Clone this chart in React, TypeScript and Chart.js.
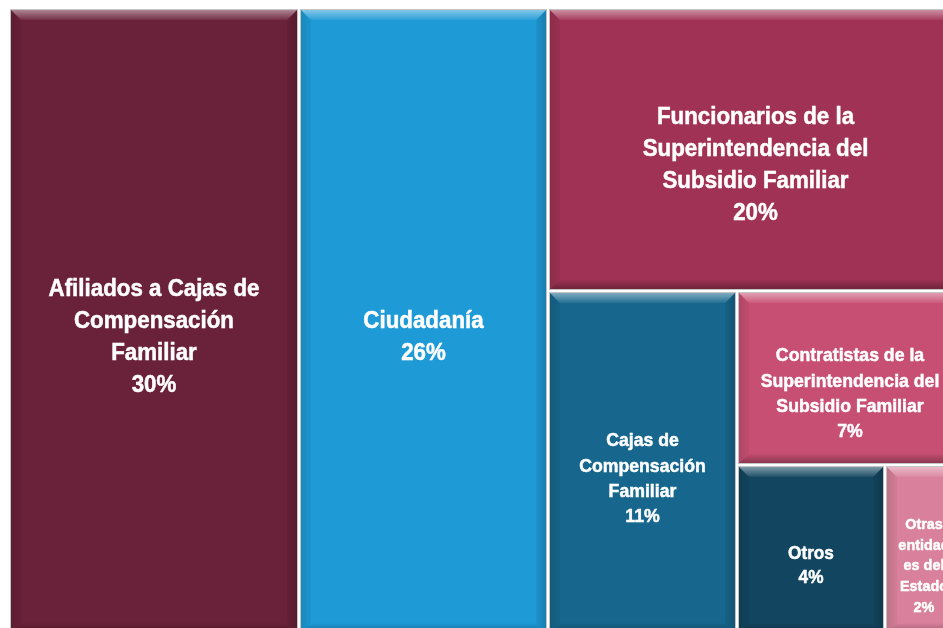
import React, { useEffect, useRef } from "react";
import { Chart, registerables } from "chart.js";

Chart.register(...registerables);

// ---- data ----
const categories: string[][] = [
  ["Afiliados a Cajas de", "Compensación", "Familiar"],
  ["Ciudadanía"],
  ["Funcionarios de la", "Superintendencia del", "Subsidio Familiar"],
  ["Cajas de", "Compensación", "Familiar"],
  ["Contratistas de la", "Superintendencia del", "Subsidio Familiar"],
  ["Otros"],
  ["Otras", "entidad", "es del", "Estado"],
];
const values: number[] = [30.4, 26.1, 19.6, 10.9, 6.6, 4.2, 2.2];

// ---- styles ----
const colors: string[] = ["#6A213A", "#1E9AD6", "#A03355", "#17668D", "#C84F74", "#12455F", "#D9819C"];
const fontSizes: number[] = [24, 24, 24, 19, 19, 18.5, 15.5];
const FONT_FAMILY = "'Liberation Sans', Arial, sans-serif";
const NARROW = 0.93;

type R = { x: number; y: number; w: number; h: number };

function computeLayout(vals: number[], aspect: number): R[] {
  const out: R[] = [];
  let x = 0, y = 0, w = 1, h = 1;
  let remaining = vals.reduce((a, b) => a + b, 0);
  for (let i = 0; i < vals.length; i++) {
    if (i === vals.length - 1) {
      out.push({ x, y, w, h });
      break;
    }
    const frac = vals[i] / remaining;
    if (w * aspect >= h) {
      const cw = w * frac;
      out.push({ x, y, w: cw, h });
      x += cw; w -= cw;
    } else {
      const ch = h * frac;
      out.push({ x, y, w, h: ch });
      y += ch; h -= ch;
    }
    remaining -= vals[i];
  }
  return out;
}

function hexToRgb(hex: string): [number, number, number] {
  const n = parseInt(hex.slice(1), 16);
  return [(n >> 16) & 255, (n >> 8) & 255, n & 255];
}
function mix(hex: string, target: number, amt: number): string {
  const [r, g, b] = hexToRgb(hex);
  const m = (c: number) => Math.round(c + (target - c) * amt);
  return `rgb(${m(r)},${m(g)},${m(b)})`;
}

const treemapPlugin = {
  id: "treemapCells",
  beforeDatasetsDraw(chart: any) {
    const ctx: CanvasRenderingContext2D = chart.ctx;
    const xs = chart.scales.x;
    const ys = chart.scales.y;
    const area = chart.chartArea;
    const aspect = (area.right - area.left) / (area.bottom - area.top);
    const rects = computeLayout(values, aspect);
    const total = values.reduce((a, b) => a + b, 0);
    const g = 2;
    const bv = 10;
    ctx.save();
    rects.forEach((r, i) => {
      const x0 = xs.getPixelForValue(r.x);
      const x1 = xs.getPixelForValue(r.x + r.w);
      const y0 = ys.getPixelForValue(r.y);
      const y1 = ys.getPixelForValue(r.y + r.h);
      const L = Math.round(x0 + g), T = Math.round(y0 + g);
      const Rr = Math.round(x1 - g), B = Math.round(y1 - g);
      const base = colors[i];

      // outline
      ctx.strokeStyle = "#c4c4c4";
      ctx.lineWidth = 1;
      ctx.strokeRect(L - 0.5, T - 0.5, Rr - L + 1, B - T + 1);

      // base fill
      ctx.fillStyle = base;
      ctx.fillRect(L, T, Rr - L, B - T);

      // left bevel
      let gr = ctx.createLinearGradient(L, 0, L + bv + 5, 0);
      gr.addColorStop(0, mix(base, 0, 0.12));
      gr.addColorStop(1, base);
      ctx.fillStyle = gr;
      ctx.beginPath();
      ctx.moveTo(L, T); ctx.lineTo(L + bv, T + bv); ctx.lineTo(L + bv, B - bv); ctx.lineTo(L, B);
      ctx.closePath(); ctx.fill();

      // right bevel
      gr = ctx.createLinearGradient(Rr, 0, Rr - bv - 4, 0);
      gr.addColorStop(0, mix(base, 0, 0.18));
      gr.addColorStop(1, base);
      ctx.fillStyle = gr;
      ctx.beginPath();
      ctx.moveTo(Rr, T); ctx.lineTo(Rr - bv, T + bv); ctx.lineTo(Rr - bv, B - bv); ctx.lineTo(Rr, B);
      ctx.closePath(); ctx.fill();

      // bottom bevel
      gr = ctx.createLinearGradient(0, B, 0, B - bv);
      gr.addColorStop(0, mix(base, 0, 0.3));
      gr.addColorStop(1, base);
      ctx.fillStyle = gr;
      ctx.beginPath();
      ctx.moveTo(L, B); ctx.lineTo(L + bv, B - bv); ctx.lineTo(Rr - bv, B - bv); ctx.lineTo(Rr, B);
      ctx.closePath(); ctx.fill();

      // top bevel (highlight)
      gr = ctx.createLinearGradient(0, T, 0, T + bv);
      gr.addColorStop(0, mix(base, 255, 0.45));
      gr.addColorStop(1, mix(base, 255, 0.06));
      ctx.fillStyle = gr;
      ctx.beginPath();
      ctx.moveTo(L, T); ctx.lineTo(Rr, T); ctx.lineTo(Rr - bv, T + bv); ctx.lineTo(L + bv, T + bv);
      ctx.closePath(); ctx.fill();

      // label
      const fs = fontSizes[i];
      const lh = fs * 1.33;
      const lines = [...categories[i], Math.round((values[i] / total) * 100) + "%"];
      const cx = (L + Rr) / 2;
      const cy = (T + B) / 2 + 16;
      ctx.fillStyle = "#ffffff";
      ctx.strokeStyle = "#ffffff";
      ctx.lineWidth = 0.5;
      ctx.font = `bold ${fs}px ${FONT_FAMILY}`;
      ctx.textAlign = "center";
      ctx.textBaseline = "middle";
      lines.forEach((ln, k) => {
        const yy = cy + (k - (lines.length - 1) / 2) * lh;
        ctx.save();
        ctx.translate(cx, yy);
        ctx.scale(NARROW, 1);
        ctx.fillText(ln, 0, 0);
        ctx.strokeText(ln, 0, 0);
        ctx.restore();
      });
    });
    ctx.restore();
  },
};

export default function App() {
  const ref = useRef<HTMLCanvasElement | null>(null);
  useEffect(() => {
    if (!ref.current) return;
    const chart = new Chart(ref.current, {
      type: "scatter",
      data: {
        datasets: [
          {
            label: "Participación",
            data: [],
            pointRadius: 0,
          },
        ],
      },
      options: {
        responsive: false,
        animation: false,
        layout: { padding: { left: 1, top: 0, right: 0, bottom: 0 } },
        scales: {
          x: { type: "linear", min: 0, max: 1, display: false },
          y: { type: "linear", min: 0, max: 1, reverse: true, display: false },
        },
        plugins: {
          legend: { display: false },
          tooltip: { enabled: false },
        },
      },
      plugins: [treemapPlugin],
    });
    return () => chart.destroy();
  }, []);
  return (
    <div
      style={{
        position: "fixed",
        left: 0,
        top: 0,
        width: "100vw",
        height: "100vh",
        overflow: "hidden",
        background: "#ffffff",
      }}
    >
      <canvas
        ref={ref}
        width={955}
        height={627}
        style={{ position: "absolute", left: 8, top: 8, display: "block" }}
      />
    </div>
  );
}
